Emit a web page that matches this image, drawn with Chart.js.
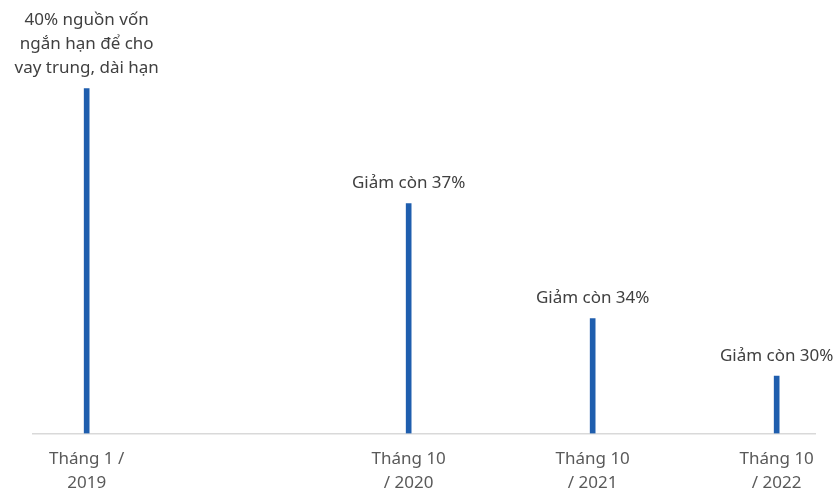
<!DOCTYPE html>
<html lang="vi">
<head>
    <meta charset="UTF-8">
    <title>Tỷ lệ vốn ngắn hạn cho vay trung, dài hạn</title>
    <style>
        body {
            margin: 0;
            padding: 0;
            background-color: #fff;
        }
        .chart-container {
            width: 838px;
            height: 491px;
        }
    </style>
</head>
<body>

<div class="chart-container">
    <canvas id="ratioChart" width="838" height="491"></canvas>
</div>

<script src="https://cdn.jsdelivr.net/npm/chart.js"></script>
<script>
    // Tick labels (two lines each) and their position in months counted from Jan 2019
    const periodLabels = [
        ['Tháng 1 /', '2019'],
        ['Tháng 10', '/ 2020'],
        ['Tháng 10', '/ 2021'],
        ['Tháng 10', '/ 2022']
    ];
    const monthsFromStart = [0, 21, 33, 45];

    // Ratio shown in each note, and the bar height as drawn in the picture (relative units)
    const ratioValues = [40, 37, 34, 30];
    const barHeights = [6, 4, 2, 1];

    const noteLabels = [
        ['40% nguồn vốn', 'ngắn hạn để cho', 'vay trung, dài hạn'],
        ['Giảm còn 37%'],
        ['Giảm còn 34%'],
        ['Giảm còn 30%']
    ];

    const FONT = '"Noto Sans", "Open Sans", sans-serif';

    // Draw the notes above each bar
    const notePlugin = {
        id: 'notes',
        afterDatasetsDraw(chart) {
            const ctx = chart.ctx;
            const bars = chart.getDatasetMeta(0).data;
            ctx.save();
            ctx.font = '17px ' + FONT;
            ctx.fillStyle = '#404040';
            ctx.textAlign = 'center';
            ctx.textBaseline = 'middle';
            bars.forEach((bar, i) => {
                const lines = noteLabels[i];
                lines.forEach((line, j) => {
                    const y = bar.y - 20 - (lines.length - 1 - j) * 24;
                    ctx.fillText(line, bar.x, y);
                });
            });
            ctx.restore();
        }
    };

    const ctx = document.getElementById('ratioChart').getContext('2d');
    const ratioChart = new Chart(ctx, {
        type: 'bar',
        data: {
            datasets: [{
                label: 'Tỷ lệ vốn ngắn hạn cho vay trung, dài hạn (%)',
                data: monthsFromStart.map((m, i) => ({ x: m, y: barHeights[i], ratio: ratioValues[i] })),
                backgroundColor: '#1f5eae',
                borderWidth: 0,
                barThickness: 5
            }]
        },
        options: {
            responsive: false,
            animation: false,
            layout: {
                padding: { left: 33, right: 23, top: 0, bottom: 0 }
            },
            plugins: {
                legend: { display: false },
                tooltip: { enabled: false }
            },
            scales: {
                x: {
                    type: 'linear',
                    offset: false,
                    min: -3.5,
                    max: 47.5,
                    grid: { display: false, drawTicks: false },
                    border: { display: true, color: '#d9d9d9', width: 1.5 },
                    afterBuildTicks(scale) {
                        scale.ticks = monthsFromStart.map(v => ({ value: v }));
                    },
                    afterFit(scale) {
                        scale.height = 57.5;
                    },
                    ticks: {
                        autoSkip: false,
                        maxRotation: 0,
                        padding: 14,
                        color: '#595959',
                        font: { family: FONT, size: 17, lineHeight: 1.38 },
                        callback(value) {
                            const i = monthsFromStart.indexOf(value);
                            return i >= 0 ? periodLabels[i] : '';
                        }
                    }
                },
                y: {
                    display: false,
                    min: 0,
                    max: 433.5 / 57.5
                }
            }
        },
        plugins: [notePlugin]
    });
</script>

</body>
</html>
